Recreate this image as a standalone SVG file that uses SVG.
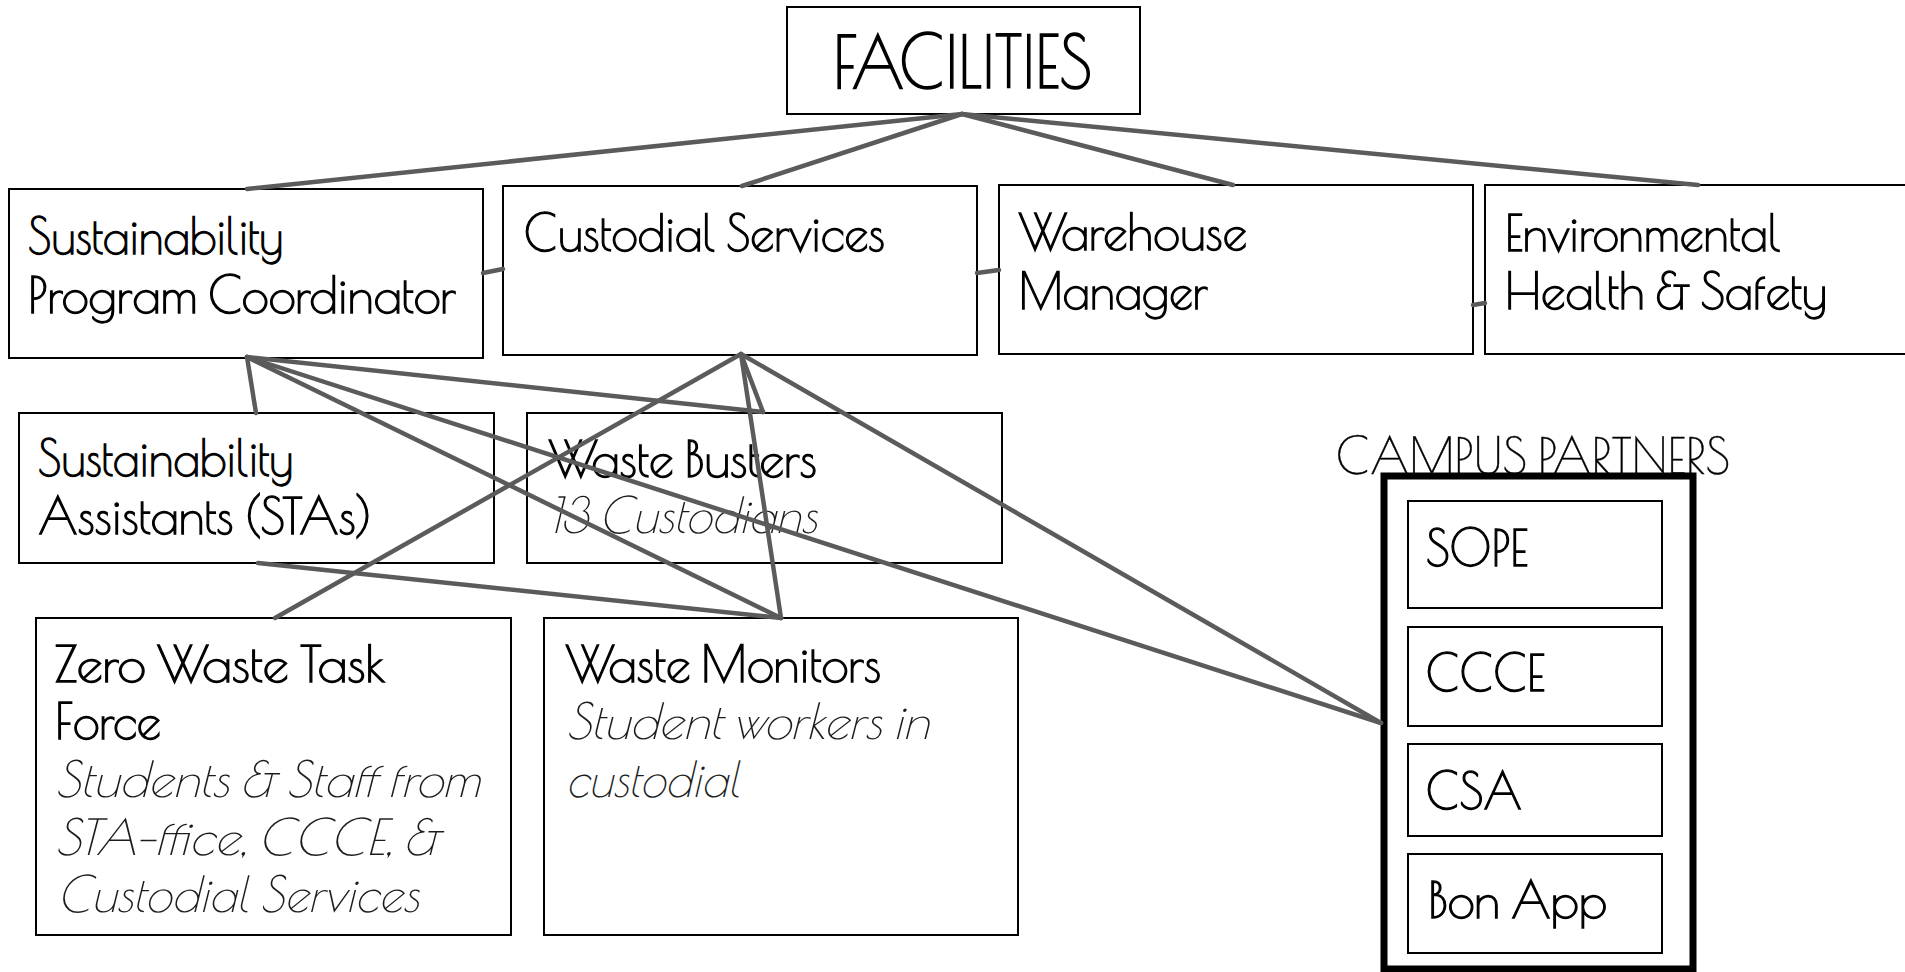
<svg xmlns="http://www.w3.org/2000/svg" width="1905" height="972" viewBox="0 0 1905 972">
<style>
  .box { fill: #ffffff; stroke: #000000; stroke-width: 2; }
  .outer { fill: none; stroke: #000000; stroke-width: 7; }
  .t { font-family: "Poiret One", "Lato", "Noto Sans", "Liberation Sans", sans-serif; font-weight: 400; font-size: 49px; fill: #000000; stroke: #000000; stroke-width: 1.3; }
  .big { font-size: 71px; stroke-width: 1.6; }
  .head { stroke-width: 0.4; }
  .sub { font-style: italic; fill: #1c1c1c; stroke: none; }
  .conn line { stroke: #5b5b5b; stroke-width: 4.5; stroke-linecap: round; }
</style>
<rect width="1905" height="972" fill="#ffffff"/>

<g id="facilities">
  <rect class="box" x="787" y="7" width="353" height="107"/>
  <text class="t big" x="833" y="88" textLength="259" lengthAdjust="spacingAndGlyphs">FACILITIES</text>
</g>

<g id="sustainability-program-coordinator">
  <rect class="box" x="9" y="189" width="474" height="169"/>
  <text class="t" x="28" y="254" textLength="255" lengthAdjust="spacingAndGlyphs">Sustainability</text>
  <text class="t" x="28" y="313" textLength="428" lengthAdjust="spacingAndGlyphs">Program Coordinator</text>
</g>

<g id="custodial-services">
  <rect class="box" x="503" y="186" width="474" height="169"/>
  <text class="t" x="524" y="251" textLength="361" lengthAdjust="spacingAndGlyphs">Custodial Services</text>
</g>

<g id="warehouse-manager">
  <rect class="box" x="999" y="185" width="474" height="169"/>
  <text class="t" x="1019" y="250" textLength="228" lengthAdjust="spacingAndGlyphs">Warehouse</text>
  <text class="t" x="1019" y="309" textLength="189" lengthAdjust="spacingAndGlyphs">Manager</text>
</g>

<g id="environmental-health-safety">
  <rect class="box" x="1485" y="185" width="474" height="169"/>
  <text class="t" x="1505" y="251" textLength="276" lengthAdjust="spacingAndGlyphs">Environmental</text>
  <text class="t" x="1505" y="309" textLength="322" lengthAdjust="spacingAndGlyphs">Health &amp; Safety</text>
</g>

<g id="sustainability-assistants">
  <rect class="box" x="19" y="413" width="475" height="150"/>
  <text class="t" x="38" y="476" textLength="255" lengthAdjust="spacingAndGlyphs">Sustainability</text>
  <text class="t" x="38" y="534" textLength="334" lengthAdjust="spacingAndGlyphs">Assistants (STAs)</text>
</g>

<g id="waste-busters">
  <rect class="box" x="527" y="413" width="475" height="150"/>
  <text class="t" x="549" y="477" textLength="268" lengthAdjust="spacingAndGlyphs">Waste Busters</text>
  <text class="t sub" x="549" y="533" textLength="268" lengthAdjust="spacingAndGlyphs">13 Custodians</text>
</g>

<g id="zero-waste-task-force">
  <rect class="box" x="36" y="618" width="475" height="317"/>
  <text class="t" x="55" y="682" textLength="330" lengthAdjust="spacingAndGlyphs">Zero Waste Task</text>
  <text class="t" x="55" y="739" textLength="106" lengthAdjust="spacingAndGlyphs">Force</text>
  <text class="t sub" x="55" y="797" textLength="425" lengthAdjust="spacingAndGlyphs">Students &amp; Staff from</text>
  <text class="t sub" x="55" y="855" textLength="384" lengthAdjust="spacingAndGlyphs">STA-ffice, CCCE, &amp;</text>
  <text class="t sub" x="57" y="912" textLength="362" lengthAdjust="spacingAndGlyphs">Custodial Services</text>
</g>

<g id="waste-monitors">
  <rect class="box" x="544" y="618" width="474" height="317"/>
  <text class="t" x="566" y="682" textLength="315" lengthAdjust="spacingAndGlyphs">Waste Monitors</text>
  <text class="t sub" x="566" y="739" textLength="363" lengthAdjust="spacingAndGlyphs">Student workers in</text>
  <text class="t sub" x="566" y="797" textLength="174" lengthAdjust="spacingAndGlyphs">custodial</text>
</g>

<g id="campus-partners">
  <text class="t head" x="1336" y="474" textLength="394" lengthAdjust="spacingAndGlyphs">CAMPUS PARTNERS</text>
  <rect class="outer" x="1384" y="476" width="309" height="493"/>
  <g id="sope">
    <rect class="box" x="1408" y="501" width="254" height="107"/>
    <text class="t" x="1426" y="566" textLength="102" lengthAdjust="spacingAndGlyphs">SOPE</text>
  </g>
  <g id="ccce">
    <rect class="box" x="1408" y="627" width="254" height="99"/>
    <text class="t" x="1426" y="691" textLength="119" lengthAdjust="spacingAndGlyphs">CCCE</text>
  </g>
  <g id="csa">
    <rect class="box" x="1408" y="744" width="254" height="92"/>
    <text class="t" x="1426" y="809" textLength="96" lengthAdjust="spacingAndGlyphs">CSA</text>
  </g>
  <g id="bon-app">
    <rect class="box" x="1408" y="854" width="254" height="99"/>
    <text class="t" x="1428" y="918" textLength="179" lengthAdjust="spacingAndGlyphs">Bon App</text>
  </g>
</g>

<g id="connectors" class="conn">
  <line x1="962" y1="114" x2="247" y2="189"/>
  <line x1="962" y1="114" x2="742" y2="186"/>
  <line x1="962" y1="114" x2="1233" y2="185"/>
  <line x1="962" y1="114" x2="1698" y2="185"/>
  <line x1="483" y1="273" x2="503" y2="269"/>
  <line x1="977" y1="273" x2="999" y2="270"/>
  <line x1="1473" y1="305" x2="1485" y2="303"/>
  <line x1="247" y1="357" x2="256" y2="413"/>
  <line x1="247" y1="357" x2="763" y2="412"/>
  <line x1="247" y1="357" x2="781" y2="618"/>
  <line x1="247" y1="357" x2="1381" y2="723"/>
  <line x1="741" y1="354" x2="275" y2="618"/>
  <line x1="741" y1="354" x2="763" y2="412"/>
  <line x1="741" y1="354" x2="781" y2="618"/>
  <line x1="741" y1="354" x2="1381" y2="723"/>
  <line x1="258" y1="563" x2="781" y2="618"/>
</g>
</svg>
